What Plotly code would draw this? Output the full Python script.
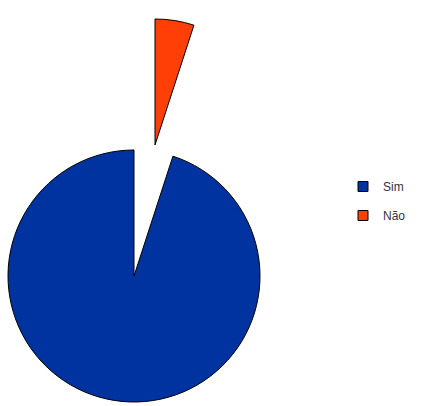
import plotly.graph_objects as go

# Survey answers: share of respondents
labels = ["Sim", "Não"]
values = [95, 5]
colors = ["#00339f", "#ff3f05"]

W, H = 422, 406
CLEAR = "rgba(0,0,0,0)"


def domain(cx, cy, r):
    """Square pie domain (paper coords) for a centre/radius given in pixels."""
    return dict(x=[(cx - r) / W, (cx + r) / W],
                y=[1 - (cy + r) / H, 1 - (cy - r) / H])


R = 126
# "Não" is drawn first, clockwise from 12 o'clock; "Sim" fills the rest
order = [1, 0]
pie_labels = [labels[i] for i in order]
pie_values = [values[i] for i in order]
common = dict(labels=pie_labels, values=pie_values, sort=False, direction="clockwise",
              rotation=0, textinfo="none", hoverinfo="label+percent", showlegend=False)

fig = go.Figure()

# Main body of the pie: "Sim" slice, the "Não" slice left empty
fig.add_trace(go.Pie(
    **common,
    domain=domain(134, 276, R),
    marker=dict(colors=[CLEAR, colors[0]],
                line=dict(color=[CLEAR, "#000000"], width=[0, 1])),
))

# Exploded "Não" slice, pushed far out from the centre
fig.add_trace(go.Pie(
    **common,
    domain=domain(155, 145, R),
    marker=dict(colors=[colors[1], CLEAR],
                line=dict(color=["#000000", CLEAR], width=[1, 0])),
))

# Legend entries
for lab, col in zip(labels, colors):
    fig.add_trace(go.Scatter(
        x=[None], y=[None], mode="markers", name=lab, legendgroup=lab,
        marker=dict(symbol="square", size=10, color=col,
                    line=dict(color="#000000", width=1)),
    ))

fig.update_layout(
    width=W, height=H,
    margin=dict(l=0, r=0, t=0, b=0),
    paper_bgcolor="white", plot_bgcolor="white",
    xaxis=dict(visible=False), yaxis=dict(visible=False),
    font=dict(family="Liberation Sans, Arial, sans-serif", size=12, color="#333333"),
    legend=dict(x=343 / W, xanchor="left", y=1 - 172 / H, yanchor="top",
                tracegroupgap=10, itemwidth=30, bgcolor=CLEAR,
                font=dict(size=12, color="#333344")),
)

fig.write_html("out.html")
